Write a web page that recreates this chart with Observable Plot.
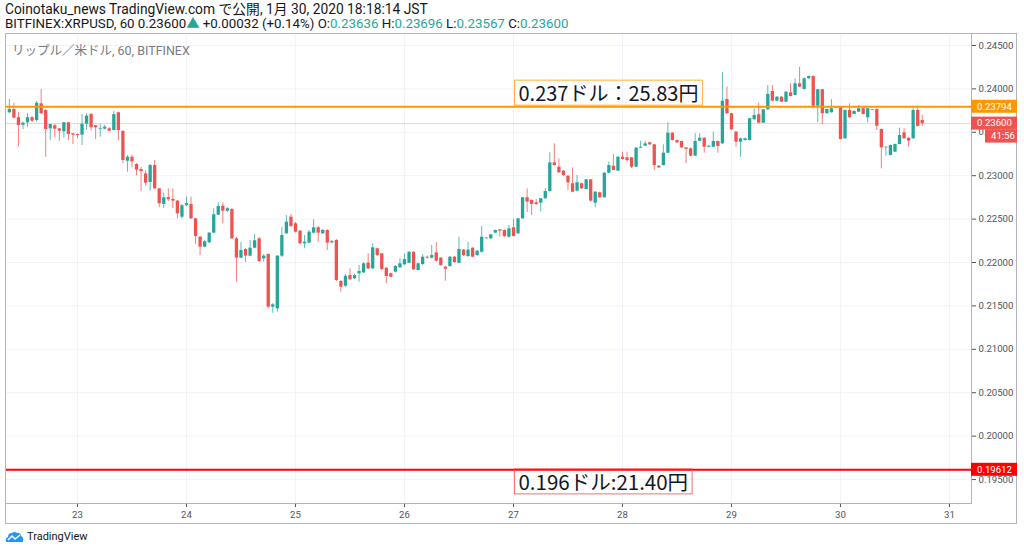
<!DOCTYPE html>
<html><head><meta charset="utf-8">
<script src="https://cdn.jsdelivr.net/npm/d3@7"></script>
<script src="https://cdn.jsdelivr.net/npm/@observablehq/plot@0.6"></script>
<style>
body{margin:0;background:#fff;width:1024px;height:552px;overflow:hidden;position:relative;font-family:Roboto,"Noto Sans CJK JP",sans-serif;color:#131722}
#h1{position:absolute;left:5px;top:2px;font-size:13.8px;white-space:nowrap;line-height:15px}
#h2{position:absolute;left:5px;top:16px;font-size:13.3px;white-space:nowrap;line-height:15px}
.up{color:#26a69a}
#outer{position:absolute;left:5px;top:33px;width:1012px;height:491px;border:1px solid #b2b5be;box-sizing:border-box}
#chart{position:absolute;left:0;top:33px}
#pane{position:absolute;left:12px;top:40px;font-size:12.5px;color:#787b86;white-space:nowrap}
#logo{position:absolute;left:5px;top:530px;font-size:11px;display:flex;align-items:center;gap:3px;color:#131722}
</style></head><body>
<div id="h1"></div>
<div id="h2"></div>
<div id="outer"></div>
<div id="chart"></div>
<div id="pane"></div>
<div id="logo"><svg width="19" height="12" viewBox="0 0 19 12"><path d="M1 11 Q0 7 3 6 Q3 2 7 2 Q9 0 12 2 Q15 1 16 5 Q19 6 18 11 Z" fill="#2196f3"/><path d="M3 9 L7 5 L10 8 L15 4" stroke="#fff" stroke-width="1.5" fill="none"/></svg><span>TradingView</span></div>
<script>
// ---- text ----
const headerLine1 = "Coinotaku_news TradingView.com で公開, 1月 30, 2020 18:18:14 JST";
const symbolText = "BITFINEX:XRPUSD, 60 0.23600";
const changeText = "+0.00032 (+0.14%)";
const ohlcLabels = ["O:", "H:", "L:", "C:"];
const ohlcValues = ["0.23636", "0.23696", "0.23567", "0.23600"];
const paneTitle = "リップル／米ドル, 60, BITFINEX";
const annoHighText = "0.237ドル：25.83円";
const annoLowText = "0.196ドル:21.40円";
const countdownText = "41:56";

// ---- levels ----
const lineHigh = 0.23794;
const lineLow = 0.19612;
const lastPrice = 0.23600;

// ---- axis ticks ----
const yTicks = [0.195, 0.200, 0.205, 0.210, 0.215, 0.220, 0.225, 0.230, 0.235, 0.240, 0.245];
const days = [23, 24, 25, 26, 27, 28, 29, 30, 31];
const annoDay = 27;

// ---- hourly candles from 2020-01-22 09:00 JST to 2020-01-30 18:00 JST ----
const open = [
.23725,.23763,.23668,.23581,.23610,.23668,.23636,.23828,.23751,.23540,
.23575,.23540,.23506,.23610,.23483,.23475,.23467,.23593,.23705,.23575,
.23536,.23536,.23540,.23521,.23725,.23509,.23167,.23213,.23129,.23071,
.23021,.22922,.23117,.22849,.22669,.22746,.22726,.22707,.22522,.22654,
.22669,.22503,.22292,.22177,.22227,.22338,.22545,.22649,.22591,.22611,
.22273,.22050,.22150,.22073,.22165,.22273,.22042,.22092,.21485,.21466,
.22073,.22331,.22522,.22446,.22361,.22215,.22223,.22338,.22400,.22331,
.22369,.22227,.22254,.21781,.21727,.21850,.21812,.21870,.21881,.21992,
.21927,.22158,.22100,.21934,.21870,.21889,.21939,.21973,.21991,.22118,
.21908,.21977,.22061,.22050,.22111,.22050,.21946,.21954,.22061,.21991,
.22143,.22069,.22165,.22080,.22118,.22273,.22273,.22338,.22377,.22369,
.22292,.22400,.22331,.22503,.22746,.22715,.22688,.22684,.22734,.22818,
.23148,.23098,.23052,.22994,.22907,.22822,.22907,.22841,.22953,.22684,
.22803,.22746,.23029,.23109,.23052,.23213,.23206,.23206,.23098,.23317,
.23340,.23379,.23356,.23109,.23117,.23259,.23490,.23405,.23394,.23321,
.23310,.23225,.23398,.23432,.23328,.23328,.23394,.23367,.23878,.23714,
.23502,.23386,.23405,.23405,.23644,.23702,.23605,.23759,.23970,.23858,
.23904,.23847,.23955,.23924,.24059,.23993,.24116,.24143,.23801,.23990,
.23714,.23725,.23789,.23789,.23425,.23751,.23705,.23732,.23771,.23667,
.23759,.23763,.23532,.23321,.23233,.23271,.23359,.23494,.23432,.23425,
.23751,.23636];
const high = [
.23878,.23835,.23732,.23617,.23714,.23682,.23855,.23993,.23760,.23590,
.23590,.23544,.23613,.23613,.23486,.23480,.23703,.23714,.23714,.23578,
.23590,.23581,.23555,.23740,.23732,.23521,.23233,.23236,.23140,.23094,
.23059,.23129,.23175,.22853,.22799,.22849,.22849,.22715,.22669,.22753,
.22753,.22507,.22300,.22254,.22346,.22619,.22688,.22688,.22634,.22619,
.22288,.22231,.22161,.22254,.22323,.22288,.22092,.22100,.21527,.22080,
.22400,.22541,.22553,.22461,.22369,.22311,.22369,.22492,.22415,.22380,
.22380,.22254,.22265,.21793,.21862,.21927,.21867,.21965,.22000,.22100,
.22215,.22167,.22104,.21942,.21879,.21965,.22042,.22100,.22126,.22126,
.21994,.22092,.22075,.22196,.22231,.22058,.21954,.22069,.22069,.22292,
.22150,.22231,.22169,.22144,.22415,.22288,.22323,.22374,.22380,.22374,
.22426,.22495,.22507,.22749,.22849,.22721,.22726,.22738,.22849,.23264,
.23367,.23194,.23060,.23002,.23090,.23002,.22914,.22956,.22956,.22818,
.22810,.23037,.23156,.23244,.23221,.23271,.23271,.23210,.23325,.23398,
.23394,.23388,.23359,.23117,.23356,.23610,.23498,.23411,.23400,.23325,
.23319,.23483,.23483,.23440,.23348,.23501,.23400,.24186,.24020,.23717,
.23509,.23432,.23434,.23659,.23771,.23835,.23763,.24039,.24039,.23912,
.23912,.23970,.24059,.24116,.24250,.24126,.24149,.24149,.23993,.23993,
.23769,.23878,.23797,.23797,.23757,.23828,.23745,.23809,.23774,.23774,
.23763,.23769,.23538,.23333,.23354,.23365,.23547,.23540,.23437,.23801,
.23801,.23696];
const low = [
.23714,.23656,.23328,.23532,.23558,.23613,.23617,.23705,.23213,.23405,
.23437,.23397,.23432,.23405,.23359,.23425,.23348,.23521,.23513,.23417,
.23444,.23527,.23504,.23515,.23405,.23138,.23040,.23090,.23002,.22818,
.22879,.22821,.22841,.22631,.22622,.22703,.22622,.22503,.22503,.22645,
.22495,.22207,.22080,.22169,.22219,.22334,.22541,.22446,.22576,.22265,
.21773,.22046,.22000,.22065,.22158,.22000,.22004,.21469,.21415,.21427,
.22058,.22323,.22403,.22340,.22207,.22158,.22215,.22331,.22234,.22323,
.22138,.22213,.21781,.21658,.21712,.21793,.21804,.21773,.21873,.21919,
.21919,.22069,.21908,.21754,.21821,.21879,.21931,.21965,.21985,.21908,
.21902,.21965,.22040,.22040,.22006,.21954,.21785,.21942,.21988,.21982,
.22069,.22058,.22052,.22069,.22109,.22269,.22265,.22334,.22292,.22288,
.22282,.22292,.22323,.22499,.22576,.22541,.22657,.22584,.22730,.22812,
.23112,.23025,.22991,.22830,.22803,.22812,.22841,.22835,.22698,.22631,
.22738,.22741,.23025,.23056,.23048,.23181,.23152,.23083,.23094,.23313,
.23336,.23348,.23060,.23083,.23112,.23256,.23400,.23371,.23313,.23138,
.23215,.23221,.23394,.23259,.23325,.23325,.23259,.23359,.23705,.23521,
.23328,.23213,.23400,.23400,.23640,.23598,.23601,.23755,.23851,.23855,
.23843,.23843,.23907,.23918,.24016,.23987,.24112,.23792,.23610,.23587,
.23708,.23721,.23774,.23411,.23421,.23662,.23702,.23728,.23702,.23610,
.23748,.23521,.23080,.23225,.23227,.23267,.23356,.23421,.23328,.23421,
.23560,.23567];
const close = [
.23763,.23663,.23578,.23605,.23668,.23628,.23835,.23714,.23532,.23590,
.23536,.23513,.23610,.23475,.23467,.23463,.23593,.23686,.23552,.23552,
.23544,.23559,.23513,.23703,.23521,.23175,.23213,.23160,.23064,.23048,
.22914,.23117,.22849,.22677,.22746,.22723,.22707,.22561,.22654,.22677,
.22503,.22300,.22177,.22239,.22338,.22550,.22645,.22591,.22619,.22273,
.22050,.22138,.22073,.22165,.22250,.22011,.22073,.21485,.21512,.22073,
.22311,.22465,.22415,.22349,.22215,.22234,.22349,.22400,.22338,.22369,
.22223,.22242,.21793,.21716,.21842,.21801,.21850,.21896,.21985,.21927,
.22169,.22080,.21919,.21839,.21831,.21954,.21985,.22034,.22118,.21916,
.21985,.22061,.22050,.22080,.22015,.21965,.21923,.22061,.22000,.22150,
.22080,.22143,.22061,.22130,.22292,.22281,.22319,.22369,.22361,.22300,
.22388,.22300,.22503,.22746,.22696,.22669,.22669,.22734,.22818,.23148,
.23117,.23033,.23002,.22918,.22810,.22918,.22849,.22953,.22707,.22810,
.22746,.23029,.23117,.23060,.23213,.23187,.23175,.23098,.23317,.23328,
.23367,.23356,.23117,.23090,.23259,.23490,.23405,.23379,.23321,.23305,
.23225,.23394,.23432,.23328,.23340,.23394,.23336,.23858,.23714,.23529,
.23386,.23425,.23425,.23656,.23694,.23605,.23759,.23936,.23858,.23904,
.23847,.23962,.23912,.24059,.24020,.24116,.24143,.23801,.23990,.23714,
.23763,.23771,.23778,.23417,.23751,.23667,.23740,.23771,.23705,.23771,
.23751,.23570,.23321,.23328,.23348,.23359,.23463,.23425,.23398,.23751,
.23568,.23600];

const UP = "#26a69a", DOWN = "#ef5350";
const HOUR = 3600000;
const start = Date.UTC(2020, 0, 22, 9);
const candles = open.map((o, i) => ({
  t: new Date(start + i * HOUR), open: o, high: high[i], low: low[i], close: close[i],
  up: close[i] >= o
}));
const dayDates = days.map(d => new Date(Date.UTC(2020, 0, d)));

// header
document.getElementById("h1").textContent = headerLine1;
document.getElementById("h2").innerHTML =
  symbolText + '<span class="up">▲</span> ' + changeText + " " +
  ohlcLabels.map((l, i) => l + '<span class="up">' + ohlcValues[i] + "</span>").join(" ");
document.getElementById("pane").textContent = paneTitle;

const annoFont = '"Noto Sans CJK JP",sans-serif';
const chart = Plot.plot({
  width: 1024, height: 492,
  marginLeft: 5, marginRight: 53, marginTop: 0, marginBottom: 22,
  style: {fontFamily: 'Roboto,"Noto Sans CJK JP",sans-serif', fontSize: "9.6px", color: "#50535e", background: "transparent", overflow: "visible"},
  x: {type: "utc", domain: [new Date(Date.UTC(2020,0,22,8,9)), new Date(Date.UTC(2020,0,31,4,51))],
      ticks: dayDates, tickFormat: d3.utcFormat("%-d"), tickSize: 4, tickPadding: 4, label: null},
  y: {domain: [0.19224, 0.24638], ticks: yTicks, tickFormat: d3.format(".5f"), axis: "right",
      tickSize: 4, tickPadding: 3, label: null},
  marks: [
    Plot.ruleY(yTicks, {stroke: "#f0f3fa"}),
    Plot.ruleX(dayDates, {stroke: "#f0f3fa"}),
    Plot.ruleY([lastPrice], {stroke: DOWN, strokeOpacity: 0.3, strokeWidth: 1}),
    Plot.ruleX(candles, {x: "t", y1: "low", y2: "high", stroke: d => d.up ? UP : DOWN, strokeWidth: 1, strokeOpacity: 0.75}),
    Plot.ruleX(candles, {x: "t", y1: "open", y2: "close", stroke: d => d.up ? UP : DOWN, strokeWidth: 3.3}),
    Plot.ruleY([lineHigh], {stroke: "#ff9800", strokeWidth: 2}),
    Plot.ruleY([lineLow], {stroke: "#ff0000", strokeWidth: 2}),
    Plot.text([annoHighText], {x: () => new Date(Date.UTC(2020,0,annoDay)), y: () => lineHigh, text: d => d,
      textAnchor: "start", dx: 5, dy: -12, fontSize: 20, fill: "#131722", fontFamily: annoFont}),
    Plot.text([annoLowText], {x: () => new Date(Date.UTC(2020,0,annoDay)), y: () => lineLow, text: d => d,
      textAnchor: "start", dx: 5, dy: 14, fontSize: 20.5, fill: "#131722", fontFamily: annoFont}),
    Plot.frame({stroke: "#b2b5be"})
  ]
});
document.getElementById("chart").appendChild(chart);

const svg = d3.select(chart);
const ys = chart.scale("y");
const right = 1024 - 53;

// annotation boxes around the two notes
[[annoHighText, "#ff9800"], [annoLowText, "#f44336"]].forEach(([txt, col]) => {
  svg.selectAll("text").filter(function() { return this.textContent === txt; }).each(function() {
    const b = this.getBBox();
    const cy = b.y + b.height / 2;
    const r = d3.select(this.parentNode).insert("rect", ":first-child")
      .attr("x", b.x - 4).attr("y", cy - 12.5).attr("width", b.width + 8).attr("height", 25)
      .attr("fill", "none").attr("stroke", col).attr("stroke-opacity", 0.75).attr("stroke-width", 1);
    const tr = this.getAttribute("transform");
    if (tr) r.attr("transform", tr);
  });
});

// price labels on the right axis
const fmt = d3.format(".5f");
const labels = [
  {v: lineHigh, bg: "#ff9800", text: fmt(lineHigh), x: right, w: 46, off: 0},
  {v: lastPrice, bg: DOWN, text: fmt(lastPrice), x: right, w: 46, off: 0},
  {v: lastPrice, bg: DOWN, text: countdownText, x: right + 14, w: 32, off: 13},
  {v: lineLow, bg: "#ff0000", text: fmt(lineLow), x: right, w: 46, off: 0}
];
const lg = svg.append("g").attr("text-anchor", "start");
labels.forEach(l => {
  const y = ys.apply(l.v) + l.off;
  lg.append("rect").attr("x", l.x).attr("y", y - 6.5).attr("width", l.w).attr("height", 13).attr("fill", l.bg);
  lg.append("text").attr("x", l.x + (l.off ? 6 : 6)).attr("y", y).attr("dy", "0.35em")
    .attr("text-anchor", "start").attr("fill", "#fff").attr("font-size", 9.6).text(l.text);
});
</script>
</body></html>
